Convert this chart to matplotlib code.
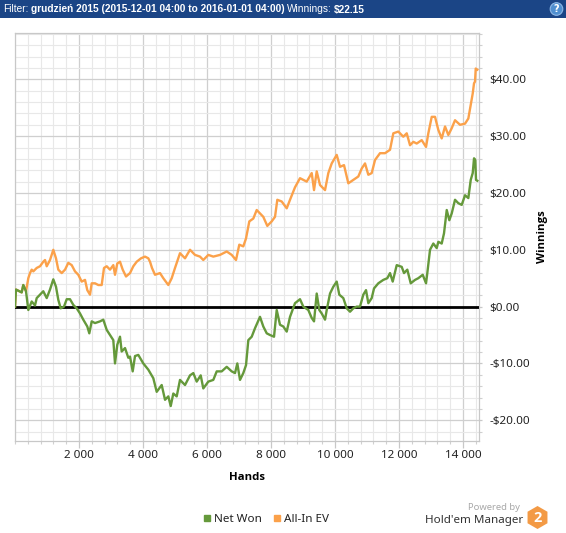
import matplotlib
matplotlib.use('Agg')
import matplotlib.pyplot as plt
from matplotlib.ticker import MultipleLocator, FixedLocator, FixedFormatter
from matplotlib.patches import Rectangle, Circle, RegularPolygon
from matplotlib.lines import Line2D

# ---------------- data ----------------
hands_net = [0, 30, 103, 209, 259, 344, 416, 522, 625, 678, 781, 884, 991, 1094, 1197, 1281,
             1353, 1428, 1531, 1616, 1719, 1822, 1928, 2031, 2134, 2259, 2322, 2397, 2500, 2656,
             2759, 2866, 2969, 3072, 3125, 3197, 3281, 3334, 3438, 3541, 3594, 3678, 3750, 3853,
             4009, 4166, 4322, 4428, 4584, 4688, 4791, 4866, 4947, 5053, 5156, 5313, 5469, 5572,
             5678, 5803, 5884, 6041, 6197, 6303, 6459, 6616, 6772, 6875, 6947, 7031, 7134, 7219,
             7291, 7397, 7500, 7656, 7759, 7866, 7969, 8094, 8178, 8281, 8384, 8491, 8594, 8750,
             8906, 9009, 9166, 9272, 9344, 9428, 9509, 9584, 9688, 9741, 9844, 9947, 10053, 10134,
             10259, 10366, 10469, 10572, 10678, 10781, 10884, 10969, 11041, 11147, 11219, 11353,
             11509, 11634, 11719, 11803, 11928, 12084, 12156, 12259, 12366, 12500, 12603, 12741,
             12844, 12884, 12969, 13072, 13178, 13228, 13334, 13406, 13491, 13572, 13647, 13750,
             13853, 13959, 14063, 14166, 14241, 14303, 14344, 14384, 14406, 14447]
net_won = [0, 3.0, 2.8, 2.5, 3.8, 2.7, -0.6, 0.9, 0.2, 1.5, 2.1, 2.7, 1.5, 3.0, 4.8, 3.5,
           1.2, -0.3, 0.0, 1.3, 1.3, 0.3, -0.3, -1.2, -2.3, -3.5, -4.7, -2.6, -2.9, -2.6,
           -2.3, -4.1, -5.0, -5.9, -10.0, -6.7, -5.3, -7.9, -7.3, -9.0, -8.8, -11.4, -8.7, -8.5,
           -10.0, -11.1, -12.6, -15.0, -13.8, -16.4, -15.8, -17.5, -15.3, -15.8, -12.9, -13.8, -12.1, -11.7,
           -13.2, -12.1, -14.4, -13.2, -12.9, -11.4, -11.4, -10.6, -11.4, -11.7, -10.0, -12.9, -11.7, -10.3,
           -5.9, -5.3, -3.8, -1.8, -3.5, -4.7, -5.0, -5.3, -0.6, -3.2, -3.5, -4.4, -1.8, 0.6,
           1.3, 0.0, -0.6, -2.0, -2.6, 2.3, -0.6, -1.2, -2.3, -0.6, 2.3, 3.5, 4.4, 2.1,
           1.5, -0.3, -0.9, -0.3, 0.0, 0.0, 2.1, 2.9, 0.6, 1.5, 3.2, 4.1,
           4.7, 5.0, 5.9, 4.4, 7.3, 7.0, 5.9, 6.5, 4.1, 4.7, 5.0, 5.6,
           4.1, 5.9, 10.0, 11.1, 10.3, 11.4, 11.1, 12.9, 17.0, 15.2, 16.4, 18.8,
           18.2, 17.9, 19.6, 19.1, 22.3, 23.5, 26.1, 25.8, 22.3, 22.15]

hands_ev = [0, 30, 103, 209, 259, 344, 416, 469, 522, 572, 678, 781, 884, 938, 991, 1094,
            1197, 1281, 1353, 1459, 1563, 1666, 1772, 1875, 1978, 2084, 2188, 2259, 2344, 2397,
            2500, 2603, 2709, 2781, 2866, 2969, 3072, 3125, 3197, 3281, 3366, 3469, 3594, 3697,
            3803, 3938, 4063, 4166, 4219, 4281, 4375, 4531, 4634, 4791, 4897, 5000, 5156, 5313,
            5469, 5625, 5781, 5884, 6041, 6197, 6406, 6616, 6772, 6906, 7009, 7134, 7219, 7322,
            7447, 7553, 7656, 7759, 7884, 8022, 8125, 8197, 8334, 8491, 8594, 8750, 8906, 9116,
            9272, 9344, 9428, 9531, 9688, 9791, 9897, 10053, 10156, 10281, 10416, 10572, 10728,
            10834, 10938, 11041, 11147, 11250, 11406, 11563, 11719, 11822, 11978, 12134, 12241,
            12344, 12447, 12553, 12709, 12844, 12916, 13022, 13125, 13228, 13334, 13438, 13541,
            13647, 13750, 13906, 14063, 14166, 14241, 14303, 14344, 14375, 14397, 14447]
allin_ev = [0, 3.0, 2.8, 2.5, 3.8, 2.7, 5.0, 5.9, 6.5, 6.2, 6.8, 7.1, 7.9, 8.2, 7.1, 8.2,
            10.0, 8.5, 6.5, 5.9, 6.5, 7.7, 7.3, 6.2, 5.6, 4.4, 4.7, 2.9, 2.1, 4.1,
            4.1, 3.8, 3.8, 6.8, 7.1, 6.5, 7.3, 5.6, 7.6, 7.9, 6.5, 5.3, 5.9, 7.1,
            7.9, 8.5, 8.8, 8.5, 7.9, 6.8, 5.6, 5.9, 5.0, 3.8, 5.0, 6.8, 9.4, 8.5,
            10.0, 9.1, 8.8, 8.2, 9.1, 8.8, 9.1, 9.7, 9.1, 8.2, 10.9, 10.6, 12.0, 15.0,
            15.5, 17.0, 16.4, 15.8, 14.2, 15.0, 15.8, 18.8, 18.5, 17.3, 18.8, 21.0, 22.6, 22.0,
            23.5, 20.5, 23.8, 21.4, 20.5, 23.5, 25.2, 26.7, 24.6, 24.9, 21.7, 22.3, 22.9,
            24.3, 25.2, 23.2, 23.5, 25.8, 27.0, 27.0, 27.6, 30.5, 30.8, 29.9, 30.5,
            28.4, 29.0, 28.7, 29.3, 28.1, 30.5, 33.4, 33.4, 31.1, 29.6, 31.7, 30.2,
            31.4, 32.8, 32.0, 32.2, 33.1, 35.5, 37.5, 39.3, 39.6, 41.9, 41.7]

x_ticks = [2000, 4000, 6000, 8000, 10000, 12000, 14000]
x_tick_labels = ['2 000', '4 000', '6 000', '8 000', '10 000', '12 000', '14 000']
y_ticks = [-20, -10, 0, 10, 20, 30, 40]
y_tick_labels = ['-$20.00', '-$10.00', '$0.00', '$10.00', '$20.00', '$30.00', '$40.00']
series_names = ['Net Won', 'All-In EV']
header_parts = [('Filter:', 'normal'),
                ('grudzień 2015 (2015-12-01 04:00 to 2016-01-01 04:00)', 'bold'),
                ('Winnings:', 'normal'),
                ('$22.15', 'bold')]

GREEN = '#65993b'
ORANGE = '#fba14a'
FONT = 'Noto Sans'
BOLDFONT = 'Open Sans'

W, H = 566, 533
fig = plt.figure(figsize=(W / 100, H / 100), dpi=100)
fig.patch.set_facecolor('white')

L, R, T, B = 15, 478.7, 33.3, 440.7
ax = fig.add_axes([L / W, 1 - B / H, (R - L) / W, (B - T) / H])
ax.set_xlim(0, 14490)
ax.set_ylim(-23.6, 48.1)

ax.xaxis.set_major_locator(FixedLocator(x_ticks))
ax.xaxis.set_major_formatter(FixedFormatter(x_tick_labels))
ax.xaxis.set_minor_locator(MultipleLocator(400))
ax.yaxis.tick_right()
ax.yaxis.set_label_position('right')
ax.yaxis.set_major_locator(FixedLocator(y_ticks))
ax.yaxis.set_major_formatter(FixedFormatter(y_tick_labels))
ax.yaxis.set_minor_locator(MultipleLocator(2))

ax.grid(which='major', color='#cfcfcf', lw=0.9, zorder=0)
ax.grid(which='minor', color='#e8e8e8', lw=0.8, zorder=0)
ax.set_axisbelow(True)
for s in ax.spines.values():
    s.set_color('#c8c8c8')
    s.set_linewidth(0.9)

ax.tick_params(axis='x', which='major', length=5, width=0.9, color='#c8c8c8', pad=2,
               labelsize=8.4, labelcolor='#222222')
ax.tick_params(axis='x', which='minor', length=2.2, width=0.8, color='#d0d0d0')
ax.tick_params(axis='y', which='major', length=2.2, width=0.9, color='#c8c8c8', pad=5.5,
               labelsize=8.4, labelcolor='#222222')
ax.tick_params(axis='y', which='minor', length=2.2, width=0.8, color='#d0d0d0')
for lab in ax.get_xticklabels() + ax.get_yticklabels():
    lab.set_family(FONT)

ax.axhline(0, color='black', lw=2.0, zorder=3)
ax.plot(hands_ev, allin_ev, color=ORANGE, lw=1.7, zorder=4)
ax.plot(hands_net, net_won, color=GREEN, lw=1.7, zorder=5)

ax.set_xlabel('Hands', fontsize=8.2, fontweight='bold', family=BOLDFONT)
ax.xaxis.set_label_coords(0.5, -(477 - B) / (B - T))
ax.xaxis.label.set_va('center')
ax.set_ylabel('Winnings', fontsize=8.2, fontweight='bold', family=BOLDFONT, rotation=90)
ax.yaxis.set_label_coords((542 - L) / (R - L), 0.5)
ax.yaxis.label.set_va('center')

handles = [Line2D([], [], ls='none', marker='s', ms=5, color=GREEN),
           Line2D([], [], ls='none', marker='s', ms=5, color=ORANGE)]
leg = fig.legend(handles, series_names, loc='center', bbox_to_anchor=(266 / W, 1 - 519.5 / H),
                 ncol=2, frameon=False, handlelength=0.6, handletextpad=0.3,
                 columnspacing=1.0, prop={'family': FONT, 'size': 8.4})
for t in leg.get_texts():
    t.set_color('#222222')

# overlay in pixel coordinates
ov = fig.add_axes([0, 0, 1, 1], zorder=10)
ov.set_xlim(0, W)
ov.set_ylim(H, 0)
ov.axis('off')
ov.patch.set_alpha(0)

ov.add_patch(Rectangle((0, 0), W, 18, color='#1b4586', lw=0))
ov.add_patch(Circle((556.5, 9), 6.3, facecolor='#4f8fd0', edgecolor='#8fb8e6', lw=0.8))
ov.text(556.5, 9.5, '?', color='white', fontsize=7, fontweight='bold', ha='center', va='center',
        family='DejaVu Sans')

fig.canvas.draw()
r = fig.canvas.get_renderer()
xpos = 3
for txt, wt in header_parts:
    t = ov.text(xpos, 9.5, txt, color='white', fontsize=7.3, fontweight=wt, ha='left',
                va='center', family='Liberation Sans', parse_math=False)
    bb = t.get_window_extent(r)
    xpos += bb.width + 2.5

ov.text(520, 508, 'Powered by', color='#a8a8a8', fontsize=6.8, ha='right', va='center', family=FONT)
ov.text(523.5, 520, "Hold'em Manager", color='#333333', fontsize=8.4, ha='right', va='center', family=FONT)
ov.add_patch(RegularPolygon((537.5, 517.5), numVertices=6, radius=11.5, orientation=0,
                            facecolor='#f39a45', edgecolor='none'))
ov.text(537.5, 518.5, '2', color='white', fontsize=10.5, fontweight='bold', ha='center',
        va='center', family=BOLDFONT)

fig.savefig('out.png', dpi=100, facecolor='white')
